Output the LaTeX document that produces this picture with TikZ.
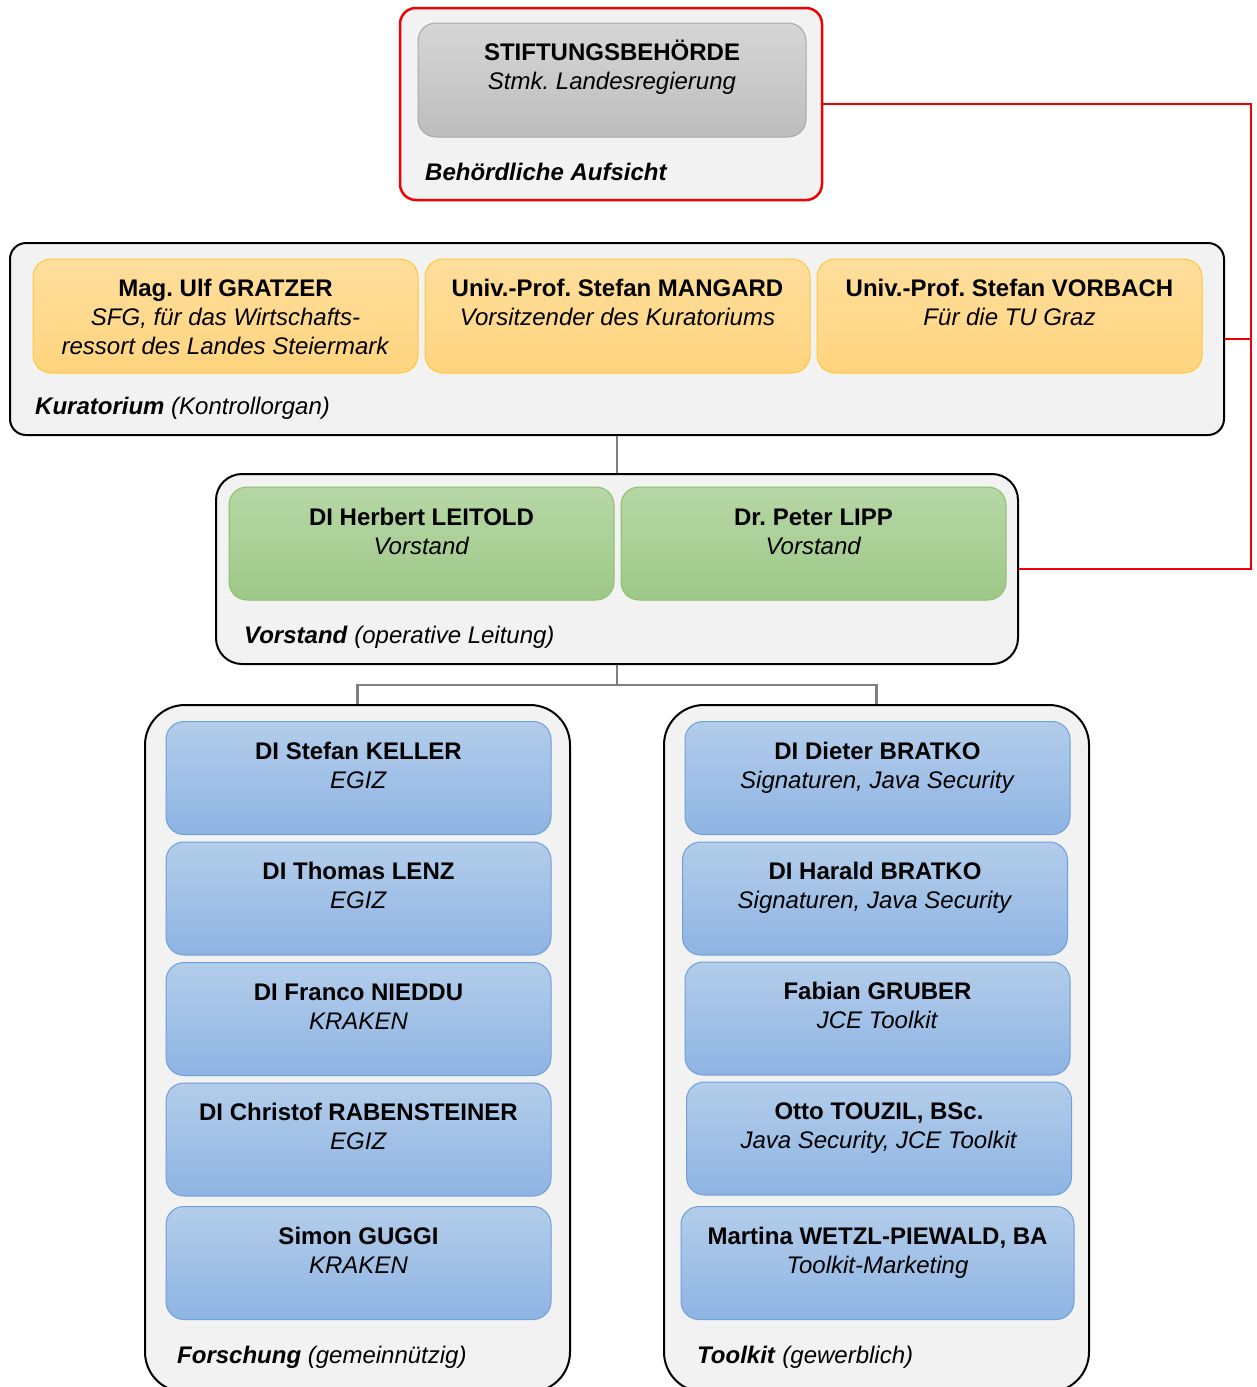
\documentclass[tikz,border=0pt]{standalone}
\usepackage{fontspec}
\setmainfont{Liberation Sans}
\frenchspacing

\definecolor{panelgray}{HTML}{F2F2F2}
\definecolor{graytop}{HTML}{D6D6D6}
\definecolor{graybot}{HTML}{BDBDBD}
\definecolor{grayline}{HTML}{A6A6A6}
\definecolor{yellowtop}{HTML}{FFDE9C}
\definecolor{yellowbot}{HTML}{FFD47E}
\definecolor{yellowline}{HTML}{FFC83A}
\definecolor{greentop}{HTML}{B6D7A6}
\definecolor{greenbot}{HTML}{9EC888}
\definecolor{greenline}{HTML}{8CBF6C}
\definecolor{bluetop}{HTML}{B3CDEA}
\definecolor{bluebot}{HTML}{8EB4E3}
\definecolor{blueline}{HTML}{6E9FDA}
\definecolor{linkgray}{HTML}{7F7F7F}
\definecolor{linkred}{HTML}{F00000}

\tikzset{
  panel/.style={draw=black, line width=2pt, fill=panelgray, rounded corners=16pt, inner sep=0pt},
  card/.style={rounded corners=18pt, inner sep=0pt, line width=1pt, minimum width=385pt, minimum height=113pt},
  graycard/.style={card, draw=grayline, top color=graytop, bottom color=graybot},
  yellowcard/.style={card, draw=yellowline, top color=yellowtop, bottom color=yellowbot},
  greencard/.style={card, draw=greenline, top color=greentop, bottom color=greenbot},
  bluecard/.style={card, draw=blueline, top color=bluetop, bottom color=bluebot},
  cardtext/.style={anchor=base, align=center, inner sep=0pt, font=\fontsize{24}{29}\selectfont},
  tag/.style={anchor=base west, inner sep=0pt, font=\fontsize{24}{29}\selectfont},
  link/.style={draw=linkgray, line width=2.5pt},
  redlink/.style={draw=linkred, line width=2pt},
}

\begin{document}
\begin{tikzpicture}[x=1pt, y=-1pt]
        \clip (0,0) rectangle (1256,1387);
        % Stiftungsbehoerde
        \node[panel, draw=linkred, line width=2.5pt, minimum width=422pt, minimum height=192pt] (aufsicht) at (611,104) {};
        \node[graycard, minimum width=388pt, minimum height=114pt] (behoerde) at (612,80) {};
        \node[cardtext] (behoerdetext) at ([yshift=-67pt]behoerde.north) {\textbf{STIFTUNGSBEHÖRDE}\\\textit{Stmk. Landesregierung}};
        \node[tag] (aufsichttag) at (425,180) {\textbf{\textit{Behördliche Aufsicht}}};
        % Kuratorium
        \node[panel, minimum width=1214pt, minimum height=192pt] (kurat) at (617,339) {};
        \node[yellowcard, minimum height=114pt] (gratzer) at (225.5,316) {};
        \node[yellowcard, minimum height=114pt] (mangard) at (617.5,316) {};
        \node[yellowcard, minimum height=114pt] (vorbach) at (1009.5,316) {};
        \node[cardtext] (gratzertext) at ([yshift=-96pt]gratzer.north) {\textbf{Mag. Ulf GRATZER}\\\textit{SFG, für das Wirtschafts-}\\\textit{ressort des Landes Steiermark}};
        \node[cardtext] (mangardtext) at ([yshift=-67pt]mangard.north) {\textbf{Univ.-Prof. Stefan MANGARD}\\\textit{Vorsitzender des Kuratoriums}};
        \node[cardtext] (vorbachtext) at ([yshift=-67pt]vorbach.north) {\textbf{Univ.-Prof. Stefan VORBACH}\\\textit{Für die TU Graz}};
        \node[tag] (kurattag) at (35,414) {\textbf{\textit{Kuratorium}} \textit{(Kontrollorgan)}};
        % Vorstand
        \node[panel, rounded corners=26pt, minimum width=802pt, minimum height=190pt] (vorstand) at (617,569) {};
        \node[greencard] (leitold) at (421.5,543.5) {};
        \node[greencard] (lipp) at (813.5,543.5) {};
        \node[cardtext] (leitoldtext) at ([yshift=-68pt]leitold.north) {\textbf{DI Herbert LEITOLD}\\\textit{Vorstand}};
        \node[cardtext] (lipptext) at ([yshift=-68pt]lipp.north) {\textbf{Dr. Peter LIPP}\\\textit{Vorstand}};
        \node[tag] (vorstandtag) at (244,643) {\textbf{\textit{Vorstand}} \textit{(operative Leitung)}};
        % Forschung
        \node[panel, rounded corners=40pt, minimum width=425pt, minimum height=687pt] (forschung) at (357.5,1048.5) {};
        \node[bluecard] (keller) at (358.5,778) {};
        \node[bluecard] (lenz) at (358.5,898.5) {};
        \node[bluecard] (nieddu) at (358.5,1019) {};
        \node[bluecard] (rabensteiner) at (358.5,1139.5) {};
        \node[bluecard] (guggi) at (358.5,1263) {};
        \node[cardtext] at ([yshift=-67pt]keller.north) {\textbf{DI Stefan KELLER}\\\textit{EGIZ}};
        \node[cardtext] at ([yshift=-67pt]lenz.north) {\textbf{DI Thomas LENZ}\\\textit{EGIZ}};
        \node[cardtext] at ([yshift=-67pt]nieddu.north) {\textbf{DI Franco NIEDDU}\\\textit{KRAKEN}};
        \node[cardtext] at ([yshift=-67pt]rabensteiner.north) {\textbf{DI Christof RABENSTEINER}\\\textit{EGIZ}};
        \node[cardtext] at ([yshift=-67pt]guggi.north) {\textbf{Simon GUGGI}\\\textit{KRAKEN}};
        \node[tag] (forschungtag) at (177,1363) {\textbf{\textit{Forschung}} \textit{(gemeinnützig)}};
        % Toolkit
        \node[panel, rounded corners=40pt, minimum width=425pt, minimum height=687pt] (toolkit) at (876.5,1048.5) {};
        \node[bluecard] (dbratko) at (877.5,778) {};
        \node[bluecard] (hbratko) at (875,898.5) {};
        \node[bluecard] (gruber) at (877.5,1018.5) {};
        \node[bluecard] (touzil) at (879,1138.5) {};
        \node[bluecard, minimum width=393pt] (wetzl) at (877.5,1263) {};
        \node[cardtext] at ([yshift=-67pt]dbratko.north) {\textbf{DI Dieter BRATKO}\\\textit{Signaturen, Java Security}};
        \node[cardtext] at ([yshift=-67pt]hbratko.north) {\textbf{DI Harald BRATKO}\\\textit{Signaturen, Java Security}};
        \node[cardtext] at ([yshift=-67pt]gruber.north) {\textbf{Fabian GRUBER}\\\textit{JCE Toolkit}};
        \node[cardtext] at ([yshift=-67pt]touzil.north) {\textbf{Otto TOUZIL, BSc.}\\\textit{Java Security, JCE Toolkit}};
        \node[cardtext] at ([yshift=-67pt]wetzl.north) {\textbf{Martina WETZL-PIEWALD, BA}\\\textit{Toolkit-Marketing}};
        \node[tag] (toolkittag) at (697,1363) {\textbf{\textit{Toolkit}} \textit{(gewerblich)}};
        % connectors
        \coordinate (split) at (617,685);
        \draw[link] (kurat.south) -- (vorstand.north);
        \draw[link] (vorstand.south) -- (split) -| (forschung.north);
        \draw[link] (split) -| (toolkit.north);
        \coordinate (railtop) at (1251,104);
        \coordinate (railbot) at (1251,569);
        \draw[redlink] (aufsicht.east) -- (railtop) -- (railbot) -- (vorstand.east);
        \draw[redlink] (kurat.east) -- (kurat.east -| railtop);
\end{tikzpicture}
\end{document}
